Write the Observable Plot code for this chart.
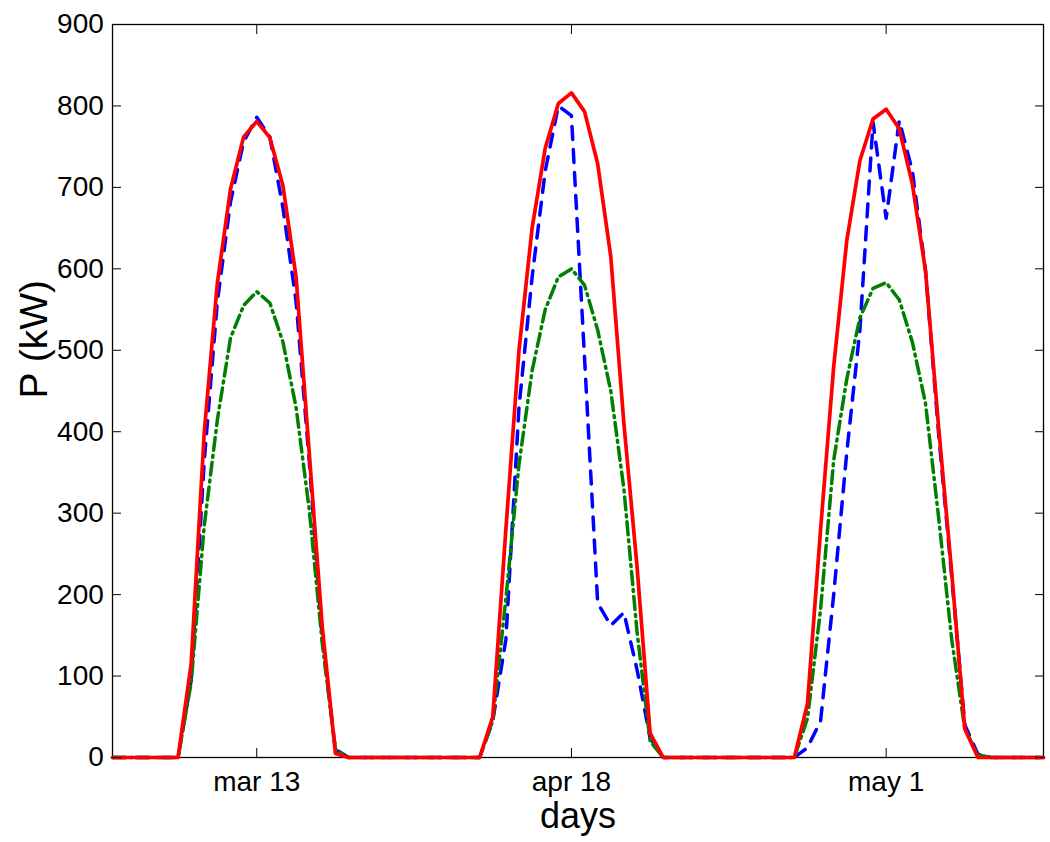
<!DOCTYPE html>
<html>
<head>
<meta charset="utf-8">
<script src="https://cdn.jsdelivr.net/npm/d3@7"></script>
<script src="https://cdn.jsdelivr.net/npm/@observablehq/plot@0.6"></script>
<style>
  body { margin: 0; background: #fff; }
  #chart svg { font-family: "Liberation Sans", Arial, Helvetica, sans-serif; }
</style>
</head>
<body>
<div id="chart"></div>
<script>
// hourly samples over three days (index 1..72)
const hours = d3.range(1, 73);

// solid red series (kW)
const redSeries = [
  0, 0, 0, 0, 0, 0, 115, 400, 583, 698, 762, 781, 761, 702, 590, 375, 160, 5, 0, 0, 0, 0, 0, 0,
  0, 0, 0, 0, 0, 50, 280, 500, 650, 748, 803, 816, 793, 729, 615, 410, 235, 30, 0, 0, 0, 0, 0, 0,
  0, 0, 0, 0, 0, 66, 280, 480, 635, 733, 784, 796, 772, 704, 598, 406, 227, 35, 0, 0, 0, 0, 0, 0
];

// dashed blue series (kW)
const blueSeries = [
  0, 0, 0, 0, 0, 0, 95, 365, 560, 682, 756, 786, 762, 675, 560, 365, 145, 10, 0, 0, 0, 0, 0, 0,
  0, 0, 0, 0, 0, 45, 145, 430, 590, 720, 800, 788, 490, 190, 162, 178, 108, 24, 0, 0, 0, 0, 0, 0,
  0, 0, 0, 0, 0, 12, 45, 200, 375, 525, 780, 662, 782, 720, 598, 398, 222, 40, 4, 0, 0, 0, 0, 0
];

// dash-dot green series (kW)
const greenSeries = [
  0, 0, 0, 0, 0, 0, 92, 285, 415, 515, 555, 572, 558, 510, 430, 305, 140, 10, 0, 0, 0, 0, 0, 0,
  0, 0, 0, 0, 0, 45, 195, 360, 475, 550, 590, 600, 580, 525, 450, 330, 155, 20, 0, 0, 0, 0, 0, 0,
  0, 0, 0, 0, 0, 48, 182, 365, 465, 540, 576, 583, 562, 510, 435, 295, 145, 35, 3, 0, 0, 0, 0, 0
];

const tickHours = [12, 36, 60];
const tickLabels = ["mar 13", "apr 18", "may 1"];
const yTicks = d3.range(0, 901, 100);

const rows = (vals) => hours.map((h, i) => ({h, p: vals[i]}));

const chart = Plot.plot({
  width: 1050,
  height: 842,
  marginLeft: 112,
  marginRight: 7,
  marginTop: 24,
  marginBottom: 85,
  style: {background: "white", color: "black", fontSize: "28px", fontFamily: "'Liberation Sans', Arial, Helvetica, sans-serif"},
  x: {domain: [1, 72]},
  y: {domain: [0, 900]},
  marks: [
    Plot.frame({stroke: "black", strokeWidth: 1.3}),
    Plot.line(rows(blueSeries), {x: "h", y: "p", stroke: "#0000ff", strokeWidth: 3.5, strokeDasharray: "13,10"}),
    Plot.line(rows(greenSeries), {x: "h", y: "p", stroke: "#008000", strokeWidth: 3.5, strokeDasharray: "13,5,2,5"}),
    Plot.line(rows(redSeries), {x: "h", y: "p", stroke: "#ff0000", strokeWidth: 3.7}),
    Plot.axisX({ticks: tickHours, tickFormat: d => tickLabels[tickHours.indexOf(d)], tickSize: -9, tickPadding: 23, label: null, fontSize: 28}),
    Plot.axisX({anchor: "top", ticks: tickHours, tickSize: -9, fill: "none", label: null}),
    Plot.axisY({ticks: yTicks, tickSize: -9, tickPadding: 17.7, label: null, fontSize: 28}),
    Plot.axisY({anchor: "right", ticks: yTicks, tickSize: -9, fill: "none", label: null}),
    Plot.text(["days"], {frameAnchor: "bottom", dy: 70, lineAnchor: "bottom", fontSize: 36}),
    Plot.text(["P (kW)"], {frameAnchor: "left", dx: -78, dy: 7.5, rotate: -90, fontSize: 39})
  ]
});

document.getElementById("chart").appendChild(chart);
</script>
</body>
</html>
